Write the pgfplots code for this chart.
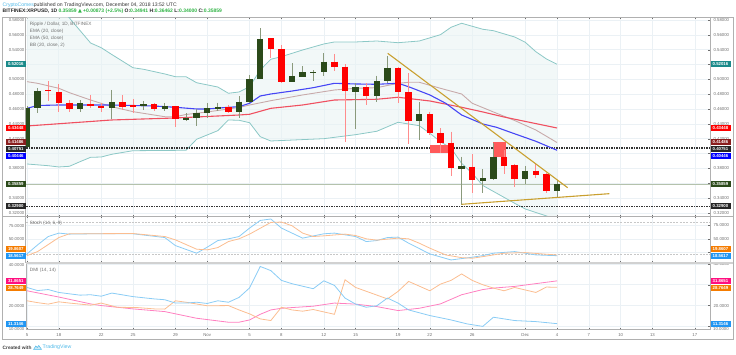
\documentclass[border=0pt]{standalone}
\usepackage{fontspec}
\setmainfont{Liberation Sans}
\newfontfamily\symfont{DejaVu Sans}
\usepackage{pgfplots}
\usepackage{pgfplotstable}
\pgfplotsset{compat=1.18}
\definecolor{cgreen}{HTML}{2B4A1A}
\definecolor{wgreen}{HTML}{8A9A7C}
\definecolor{cred}{HTML}{FF0000}
\definecolor{wred}{HTML}{FF8C8C}
\definecolor{bbline}{HTML}{8CC8C6}
\definecolor{bbfill}{HTML}{E9F4F4}
\definecolor{gridc}{HTML}{EBF1F5}
\definecolor{framec}{HTML}{B0B0B0}
\definecolor{lblc}{HTML}{6E6E6E}
\definecolor{kline}{HTML}{8ACCF5}
\definecolor{dline}{HTML}{FBBD90}
\definecolor{adx}{HTML}{FF80C0}
\definecolor{gold}{HTML}{C9A030}
\definecolor{tvblue}{HTML}{4DB8E8}
\definecolor{tvgreen}{HTML}{2FB344}
% d = days since 15 Oct 2018
\pgfplotstableread{
d top bot hi lo
0 0.4614 0.4089 0.4640 0.4089
1 0.4848 0.4614 0.4884 0.4547
5 0.4682 0.4601 0.4722 0.4561
8 0.4695 0.4610 0.4857 0.4466
11 0.4664 0.4641 0.4709 0.4588
13 0.4645 0.4601 0.4682 0.4578
15 0.4476 0.4453 0.4543 0.4439
16 0.4543 0.4476 0.4601 0.4376
17 0.4610 0.4543 0.4682 0.4480
18 0.4628 0.4605 0.4686 0.4578
20 0.4699 0.4567 0.4776 0.4480
21 0.5005 0.4691 0.5059 0.4682
22 0.5544 0.5005 0.5688 0.5005
25 0.5046 0.4969 0.5217 0.4961
26 0.5095 0.5036 0.5180 0.5036
27 0.5099 0.5086 0.5126 0.4982
28 0.5238 0.5095 0.5351 0.5050
31 0.4897 0.4834 0.4951 0.4332
33 0.4974 0.4780 0.5050 0.4699
34 0.5157 0.4978 0.5315 0.4947
37 0.4530 0.4439 0.4691 0.4183
41 0.3833 0.3797 0.3958 0.3308
43 0.3667 0.3635 0.3789 0.3473
44 0.3958 0.3658 0.4143 0.3651
47 0.3770 0.3654 0.3833 0.3587
50 0.3586 0.3494 0.3646 0.3400
}\greenT
\pgfplotstableread{
d top bot hi lo
2 0.4855 0.4841 0.4978 0.4713
3 0.4830 0.4682 0.4938 0.4565
4 0.4682 0.4601 0.4722 0.4565
6 0.4672 0.4645 0.4790 0.4614
7 0.4645 0.4610 0.4682 0.4565
9 0.4691 0.4632 0.4790 0.4588
10 0.4651 0.4632 0.4736 0.4547
12 0.4664 0.4601 0.4682 0.4578
14 0.4641 0.4462 0.4648 0.4354
19 0.4632 0.4565 0.4655 0.4543
23 0.5553 0.5405 0.5558 0.5284
24 0.5405 0.4961 0.5463 0.4947
29 0.5238 0.5171 0.5342 0.5117
30 0.5171 0.4843 0.5203 0.4160
32 0.4893 0.4776 0.4951 0.4655
35 0.5157 0.4826 0.5160 0.4678
36 0.4826 0.4439 0.5082 0.4125
38 0.4534 0.4274 0.4565 0.4251
39 0.4274 0.4147 0.4341 0.4004
40 0.4147 0.3802 0.4295 0.3698
42 0.3824 0.3645 0.3991 0.3473
45 0.3958 0.3833 0.4049 0.3725
46 0.3847 0.3654 0.3860 0.3554
48 0.3770 0.3716 0.3869 0.3667
49 0.3721 0.3496 0.3735 0.3465
}\redT
\pgfplotsset{
  pane/.style={
    scale only axis, width=684pt,
    xmin=-0.094, xmax=64.43,
    xtick={0,3,7,10,14,17,21,24,28,31,35,38,42,47,50,53,56,59,63},
    xticklabels={},
    ytick pos=right, yticklabel pos=right,
    grid=major, major grid style={gridc,line width=.6pt},
    axis line style={framec,line width=1pt},
    tick style={lblc,line width=.3pt},
    major tick length=1.6pt,
    every tick label/.style={font=\fontsize{4.3}{5}\selectfont,text=lblc},
    scaled y ticks=false,
  },
  ln/.style={mark=none,line width=#1},
}
\newcommand{\badge}[3]{%
  \fill[#1] (5.7pt,{(355-#2-3)*1pt}) rectangle (26pt,{(355-#2+3)*1pt});
  \fill[#1] (710.5pt,{(355-#2-3)*1pt}) rectangle (730.5pt,{(355-#2+3)*1pt});
  \node[text=white,inner sep=0pt,font=\fontsize{4.3}{5}\bfseries\selectfont] at (15.8pt,{(355-#2)*1pt}) {#3};
  \node[text=white,inner sep=0pt,font=\fontsize{4.3}{5}\bfseries\selectfont] at (720.5pt,{(355-#2)*1pt}) {#3};
}
\begin{document}
\begin{tikzpicture}
\path[use as bounding box] (0,0) rectangle (736pt,355pt);
\draw[framec,line width=1pt] (2pt,15pt) rectangle (733pt,337.5pt);
% ---------- main pane
\begin{axis}[pane, at={(26pt,138.3pt)}, anchor=south west, height=199.2pt,
  ymin=0.3150, ymax=0.58337,
  ytick={0.32,0.34,0.36,0.38,0.40,0.42,0.44,0.46,0.48,0.50,0.52,0.54,0.56,0.58},
  yticklabels={0.32000,0.34000,,0.38000,,0.42000,0.44000,0.46000,0.48000,0.50000,,0.54000,0.56000,0.58000}]
% Bollinger band area: upper band forward, lower band back
\addplot[fill=bbfill,fill opacity=.6,draw=none,forget plot] coordinates {
(0,.6177)(2,.6029)(3,.5962)(4,.5827)(6,.5490)(7,.5427)(8,.5335)(10,.5157)(11,.5136)(13,.5073)(14,.5036)(15,.5036)(16,.4955)(18,.4897)(19,.4813)(20,.4830)(21,.4901)(22,.5126)(23,.5271)(24,.5306)(26,.5396)(28,.5477)(29,.5504)(31,.5504)(33,.5517)(35,.5494)(37,.5517)(39,.5602)(40,.5702)(41,.5756)(43,.5675)(44,.5656)(46,.5571)(47,.5500)(48,.5373)(49,.5275)(50,.5203)
(50,.3106)(49,.3160)(47,.3254)(46,.3331)(43,.3570)(42,.3735)(41,.3869)(40,.4072)(39,.4160)(38,.4274)(37,.4376)(35,.4422)(33,.4301)(31,.4255)(28,.4201)(23,.4170)(22,.4228)(21,.4416)(20,.4449)(19,.4453)(18,.4309)(16,.4193)(15,.4045)(10,.4039)(8,.3991)(7,.3954)(6,.3950)(5,.3891)(4,.3829)(3,.3820)(2,.3837)(0,.3860)} --cycle;
\addplot[ln=.8pt,bbline] coordinates {
(0,.6177)(2,.6029)(3,.5962)(4,.5827)(6,.5490)(7,.5427)(8,.5335)(10,.5157)(11,.5136)(13,.5073)(14,.5036)(15,.5036)(16,.4955)(18,.4897)(19,.4813)(20,.4830)(21,.4901)(22,.5126)(23,.5271)(24,.5306)(26,.5396)(28,.5477)(29,.5504)(31,.5504)(33,.5517)(35,.5494)(37,.5517)(39,.5602)(40,.5702)(41,.5756)(43,.5675)(44,.5656)(46,.5571)(47,.5500)(48,.5373)(49,.5275)(50,.5203)};
\addplot[ln=.8pt,bbline] coordinates {
(0,.3860)(2,.3837)(3,.3820)(4,.3829)(5,.3891)(6,.3950)(7,.3954)(8,.3991)(10,.4039)(15,.4045)(16,.4193)(18,.4309)(19,.4453)(20,.4449)(21,.4416)(22,.4228)(23,.4170)(28,.4201)(31,.4255)(33,.4301)(35,.4422)(37,.4376)(38,.4274)(39,.4160)(40,.4072)(41,.3869)(42,.3735)(43,.3570)(46,.3331)(47,.3254)(49,.3160)(50,.3106)};
% reference lines
\addplot[ln=.7pt,color={rgb,255:red,180;green,194;blue,172}] coordinates {(-1,.35859)(66,.35859)};
\addplot[ln=1.3pt,color=black!80,dash pattern=on 1.3pt off 1.2pt] coordinates {(-1,.40751)(66,.40751)};
\addplot[ln=1.3pt,color=black!80,dash pattern=on 1.3pt off 1.2pt] coordinates {(-1,.32900)(66,.32900)};
% moving averages
\addplot[ln=.9pt,color={rgb,255:red,200;green,170;blue,170}] coordinates {
(0,.4969)(1,.4947)(3,.4880)(4,.4821)(6,.4722)(8,.4632)(10,.4565)(13,.4497)(14,.4497)(15,.4527)(17,.4561)(20,.4621)(21,.4655)(23,.4713)(26,.4790)(29,.4857)(31,.4880)(33,.4888)(35,.4947)(36,.4961)(37,.4961)(39,.4880)(41,.4803)(42,.4678)(44,.4561)(46,.4446)(48,.4318)(50,.4149)};
\addplot[ln=1.1pt,color={rgb,255:red,240;green,80;blue,96}] coordinates {
(0,.4372)(8,.4453)(14,.4480)(20,.4520)(21,.4530)(23,.4610)(26,.4655)(29,.4722)(33,.4732)(35,.4759)(38,.4709)(41,.4624)(43,.4561)(45,.4493)(50,.4345)};
\addplot[ln=1.1pt,color={rgb,255:red,70;green,70;blue,245}] coordinates {
(0,.4610)(1,.4648)(3,.4655)(5,.4655)(8,.4655)(12,.4641)(14,.4624)(16,.4601)(17,.4601)(19,.4624)(20,.4632)(21,.4678)(22,.4776)(23,.4803)(25,.4843)(27,.4888)(29,.4947)(31,.4938)(33,.4934)(35,.4947)(36,.4901)(38,.4790)(39.5,.4678)(41,.4520)(43,.4399)(44.3,.4354)(46,.4267)(48,.4166)(50,.4045)};
% boxes
\addplot[fill={rgb,255:red,255;green,90;blue,90},draw=none] coordinates {(38,.4116)(40.1,.4116)(40.1,.4004)(38,.4004)} --cycle;
\addplot[fill={rgb,255:red,255;green,90;blue,90},draw=none] coordinates {(44,.4152)(45.15,.4152)(45.15,.3958)(44,.3958)} --cycle;
% candles: wicks then bodies
\addplot[draw=none,mark=none,forget plot,error bars/.cd,y dir=minus,y explicit,error mark=none,error bar style={wgreen,line width=.8pt}]
  table[x=d,y=hi,y error minus expr=\thisrow{hi}-\thisrow{lo}] {\greenT};
\addplot[draw=none,mark=none,forget plot,error bars/.cd,y dir=minus,y explicit,error mark=none,error bar style={wred,line width=.8pt}]
  table[x=d,y=hi,y error minus expr=\thisrow{hi}-\thisrow{lo}] {\redT};
\addplot[draw=none,mark=none,forget plot,error bars/.cd,y dir=minus,y explicit,error mark=none,error bar style={cgreen,line width=6.4pt}]
  table[x=d,y=top,y error minus expr=\thisrow{top}-\thisrow{bot}] {\greenT};
\addplot[draw=none,mark=none,forget plot,error bars/.cd,y dir=minus,y explicit,error mark=none,error bar style={cred,line width=6.4pt}]
  table[x=d,y=top,y error minus expr=\thisrow{top}-\thisrow{bot}] {\redT};
% trend lines
\addplot[ln=1.1pt,gold] coordinates {(34.03,.5351)(51.0,.3541)};
\addplot[ln=1.1pt,gold] coordinates {(41.0,.3317)(54.93,.3460)};
\end{axis}
% ---------- Stoch pane
\begin{axis}[pane, at={(26pt,92.3pt)}, anchor=south west, height=46pt,
  ymin=5.5, ymax=91.3, ytick={25,50,75},
  yticklabels={,50.0000,75.0000}]
\addplot[ln=1pt,color=black!22,dash pattern=on 2pt off 1.3pt] coordinates {(-1,80)(66,80)};
\addplot[ln=1pt,color=black!22,dash pattern=on 2pt off 1.3pt] coordinates {(-1,20)(66,20)};
\addplot[ln=.8pt,kline] coordinates {
(0,21.9)(1,38.7)(2,54.3)(3,60.7)(4,58.8)(6,59.4)(10,59.4)(13,52.4)(14,37.4)(16,23.2)(17,34.4)(18,46.8)(19,50)(20,54.3)(21,70.1)(22,84.3)(23,87)(24,70.1)(26,51.3)(28,59.4)(29,60.7)(31,54.3)(32,44.9)(33,46.8)(34,52.4)(35,53.2)(36,41.9)(38,21.9)(40,10.6)(42,15.7)(43,18.7)(44,23.2)(46,26.2)(47,23.2)(48,20)(50,18.56)};
\addplot[ln=.8pt,dline] coordinates {
(0,18.7)(1,26.2)(3,52.4)(4,59.4)(10,59.9)(13,54.3)(14,48.1)(16,30.7)(17,29.4)(18,33.7)(19,44.9)(20,50)(21,58.8)(23,80.6)(24,81.3)(25,74.4)(26,60.7)(27,54.3)(28,55.6)(30,58.8)(31,56.2)(32,50)(33,47.6)(35,51.3)(36,50)(37,41.9)(38,32.6)(39.5,20)(41,14.9)(42,13.8)(43,16.8)(45,23.2)(47,24.3)(49,21.3)(50,19.86)};
\end{axis}
% ---------- DMI pane
\begin{axis}[pane, at={(26pt,25pt)}, anchor=south west, height=67.3pt,
  ymin=8.26, ymax=40.6, ytick={10,20,30,40},
  yticklabels={,20.0000,,40.0000},
  xticklabels={5,18,22,25,29,Nov,5,8,12,15,19,22,26,Dec,4,7,10,13,17}]
\addplot[ln=.8pt,adx] coordinates {
(0,27.1)(3,24.1)(6,20.8)(7,20.0)(10,18.4)(13,17.1)(16,13.9)(19,12.0)(20,12.0)(21,13.1)(22,15.8)(23,17.9)(24,18.7)(27,19.7)(29,21.2)(31,20.7)(33,19.5)(35,17.6)(37,18.7)(39,20.8)(41,25.2)(43,27.7)(44,28.4)(46,29.2)(50,31.87)};
\addplot[ln=.8pt,dline] coordinates {
(0,22.3)(1,21.4)(2,20.7)(3,21.8)(4,21.2)(6,20.2)(7,21.2)(8.5,19.2)(10.5,19.0)(12,18.4)(13,18.3)(14,22.3)(15,21.6)(17,19.9)(19,20.0)(20,17.9)(21,16.0)(22,13.6)(23,12.8)(24,19.2)(25,17.9)(26,17.3)(27,18.1)(29,15.8)(30,32.4)(31,28.7)(34,23.2)(35,26.8)(36,31.6)(38,27.1)(39,30.3)(40,32.1)(41,35.2)(42,32.1)(43,30.0)(44,28.4)(45,27.1)(46,28.7)(48,26.3)(49,28.9)(50,28.76)};
\addplot[ln=.8pt,kline] coordinates {
(0,28.7)(1,27.2)(2,27.7)(3,26.3)(5,25.0)(6,25.2)(7,24.5)(8,26.0)(10,24.3)(12,23.2)(13,22.8)(14,21.2)(15,21.2)(16,21.6)(17,21.0)(18,22.3)(19,21.6)(20,23.9)(21,28.5)(22,38.8)(23,36.8)(24,32.1)(25,30.5)(27,28.1)(28,31.9)(29,29.7)(30,23.6)(31,20.7)(32,19.2)(33,19.9)(34,23.6)(35,21.2)(36,17.9)(38,15.2)(40,13.1)(41.5,11.2)(43,10.0)(44,14.4)(46,12.8)(48,12.3)(50,11.31)};
\end{axis}
% pane separators
\draw[black!18,line width=2pt] (26pt,92.3pt) -- (733pt,92.3pt);
\draw[framec,line width=1pt] (2pt,138.3pt) -- (733pt,138.3pt);
% left tick labels
\foreach \py/\t in {20/0.58000,34.85/0.56000,49.7/0.54000,79.4/0.50000,94.2/0.48000,109.1/0.46000,123.9/0.44000,138.8/0.42000,168.5/0.38000,198.2/0.34000,213/0.32000,225.7/75.0000,239/50.0000,265.2/40.0000,305.7/20.0000,329/10.0000}
  \node[anchor=east,inner sep=0pt,text=lblc,font=\fontsize{4.3}{5}\selectfont] at (24.5pt,{(355-\py)*1pt}) {\t};
\node[anchor=west,inner sep=0pt,text=lblc,font=\fontsize{4.3}{5}\selectfont] at (713pt,26pt) {10.0000};
% value badges
\badge{black!85}{206}{0.32900}
\definecolor{bteal}{HTML}{1A8A8A}\badge{bteal}{64.4}{0.52016}
\badge{red}{128.3}{0.43448}
\definecolor{bbrown}{HTML}{8A1E1E}\badge{bbrown}{142.4}{0.41486}
\badge{blue}{156.3}{0.40446}
\badge{black!85}{149.3}{0.40751}
\badge{cgreen}{184.4}{0.35859}
\definecolor{borange}{HTML}{F57C00}\definecolor{bblue}{HTML}{2196F3}\definecolor{bpink}{HTML}{FF0F7F}
\badge{borange}{249}{19.8607}
\badge{bblue}{255.7}{18.5617}
\badge{bpink}{281}{31.8651}
\badge{borange}{287.7}{28.7649}
\badge{bblue}{323.8}{11.3146}
% header
\node[anchor=west,inner sep=0pt,font=\fontsize{5.1}{6}\selectfont] at (2.5pt,350pt) {\textcolor{tvblue}{CryptoComes}\textcolor{black!80}{ published on TradingView.com, December 04, 2018 13:52 UTC}};
\node[anchor=west,inner sep=0pt,font=\fontsize{5}{6}\bfseries\selectfont] at (2.5pt,343.7pt) {\textcolor{black!85}{BITFINEX:XRPUSD, 1D }\textcolor{tvgreen}{0.35859 {\symfont ▲} +0.00873 (+2.5\%)} \textcolor{black!85}{O:}\textcolor{tvgreen}{0.34941} \textcolor{black!85}{H:}\textcolor{tvgreen}{0.36462} \textcolor{black!85}{L:}\textcolor{tvgreen}{0.34000} \textcolor{black!85}{C:}\textcolor{tvgreen}{0.35859}};
% pane legends
\foreach \py/\t in {24.5/{Ripple / Dollar, 1D, BITFINEX},31.3/{EMA (20, close)},38.1/{EMA (50, close)},45/{BB (20, close, 2)},223/{Stoch (14, 6, 9)},270/{DMI (14, 14)}}
  \node[anchor=west,inner sep=0pt,text=black!55,font=\fontsize{4.7}{5}\selectfont] at (29.7pt,{(355-\py)*1pt}) {\t};
% footer
\node[anchor=west,inner sep=0pt,text=black!75,font=\fontsize{4.8}{6}\bfseries\selectfont] at (2.5pt,7.5pt) {Created with};
\draw[tvblue,line width=.5pt,fill=tvblue!30] (33.5pt,5.5pt) -- (35.8pt,9pt) -- (37.3pt,7.5pt) -- (38.8pt,9.5pt) -- (41.6pt,5.5pt) -- cycle;
\node[anchor=west,inner sep=0pt,text=tvblue,font=\fontsize{5.2}{6}\selectfont] at (42.5pt,7.5pt) {TradingView};
\end{tikzpicture}
\end{document}
